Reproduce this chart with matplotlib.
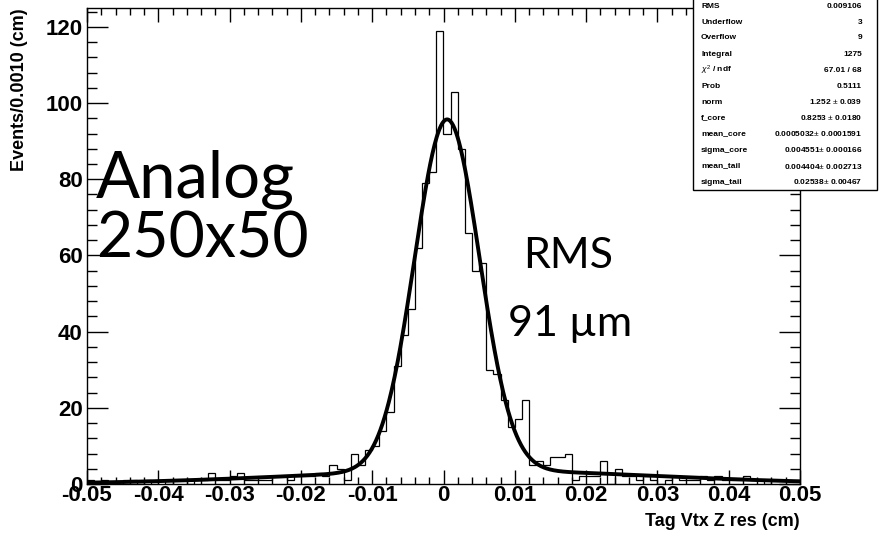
import numpy as np
import matplotlib.pyplot as plt
from matplotlib.patches import Rectangle
from matplotlib.ticker import MultipleLocator

W, H = 881, 542

# 100 bins of 0.0010 cm, -0.05 .. 0.05
counts = [1, 0, 1, 0, 0, 1, 1, 0, 1, 0,
          1, 0, 1, 1, 0, 1, 1, 3, 1, 1,
          2, 3, 1, 1, 1, 1, 2, 2, 1, 2,
          2, 2, 3, 2, 5, 4, 1, 8, 5, 9,
          10, 14, 19, 31, 39, 46, 62, 79, 82, 119,
          92, 103, 88, 66, 56, 58, 30, 29, 22, 15,
          17, 22, 5, 6, 5, 7, 7, 8, 1, 2,
          2, 2, 6, 0, 4, 2, 2, 1, 2, 1,
          0, 1, 2, 1, 1, 1, 2, 1, 2, 1,
          1, 1, 2, 1, 1, 0, 1, 1, 1, 1]
edges = np.linspace(-0.05, 0.05, 101)
binw = 0.001

# double gaussian fit (values from the stats box)
integral = 1275
f_core = 0.8253
mean_core = 0.0005032
sigma_core = 0.004551
mean_tail = 0.004404
sigma_tail = 0.02538

stat_names = ["RMS", "Underflow", "Overflow", "Integral", r"$\chi^2$ / ndf", "Prob",
              "norm", "f_core", "mean_core", "sigma_core", "mean_tail", "sigma_tail"]
stat_vals = ["0.009106", "3", "9", "1275", "67.01 / 68", "0.5111",
             "1.252 $\\pm$ 0.039", "0.8253 $\\pm$ 0.0180", "0.0005032$\\pm$ 0.0001591",
             "0.004551$\\pm$ 0.000166", "0.004404$\\pm$ 0.002713", "0.02538$\\pm$ 0.00467"]

def gaus(x, m, s):
    return np.exp(-0.5*((x-m)/s)**2)/(np.sqrt(2*np.pi)*s)

plt.rcParams['font.family'] = ['Liberation Sans', 'DejaVu Sans']
plt.rcParams['mathtext.fontset'] = 'custom'
plt.rcParams['mathtext.rm'] = 'Liberation Sans'
plt.rcParams['mathtext.it'] = 'Liberation Sans:italic'

fig = plt.figure(figsize=(W/100, H/100), dpi=100)
ax = fig.add_axes([87/W, 1-484/H, (800-87)/W, (484-8)/H])

ax.stairs(counts, edges, color='black', lw=0.9)
xx = np.linspace(-0.05, 0.05, 1000)
fit = integral*binw*(f_core*gaus(xx, mean_core, sigma_core) + (1-f_core)*gaus(xx, mean_tail, sigma_tail))
ax.plot(xx, fit, color='black', lw=2.8)

ax.set_xlim(-0.05, 0.05)
ax.set_ylim(0, 1.05*max(counts))
ax.xaxis.set_minor_locator(MultipleLocator(0.002))
ax.yaxis.set_major_locator(MultipleLocator(20))
ax.yaxis.set_minor_locator(MultipleLocator(4))
ax.set_xticks(np.arange(-0.05, 0.051, 0.01))
ax.set_xticklabels(["-0.05", "-0.04", "-0.03", "-0.02", "-0.01", "0", "0.01", "0.02", "0.03", "0.04", "0.05"])
ax.tick_params(which='both', direction='in', top=True, right=True, width=1)
ax.tick_params(axis='x', which='major', length=10, labelsize=16, pad=1)
ax.tick_params(axis='x', which='minor', length=5)
ax.tick_params(axis='y', which='major', length=15, labelsize=16, pad=3)
ax.tick_params(axis='y', which='minor', length=7.5)
for lab in ax.get_xticklabels() + ax.get_yticklabels():
    lab.set_fontweight('bold')
for sp in ax.spines.values():
    sp.set_linewidth(1)

fig.text(800/W, 1-521/H, "Tag Vtx Z res (cm)", ha='right', va='center', fontsize=13, fontweight='bold')
fig.text(20/W, 1-8/H, "Events/0.0010 (cm)", ha='center', va='top', rotation=90, fontsize=13, fontweight='bold')

fig.text(96/W, 1-198/H, "Analog", fontsize=47, family='Lato', ha='left', va='baseline')
fig.text(96/W, 1-258/H, "250x50", fontsize=45, family='Lato', ha='left', va='baseline')
fig.text(568/W, 1-268/H, "RMS", fontsize=31, family='Lato', ha='center', va='baseline')
fig.text(570/W, 1-336/H, "91 \u00b5m", fontsize=31, family='Lato', ha='center', va='baseline')

# stats box
bx0, bx1, by1 = 693, 877, 190
fig.add_artist(Rectangle((bx0/W, 1-by1/H), (bx1-bx0)/W, by1/H + 0.01,
                         transform=fig.transFigure, facecolor='white', edgecolor='black', lw=1))
for i, (n, v) in enumerate(zip(stat_names, stat_vals)):
    y = 1 - (6 + 16*i)/H
    fig.text(701/W, y, n, fontsize=6, fontweight='bold', ha='left', va='center')
    fig.text(862/W, y, v, fontsize=6, fontweight='bold', ha='right', va='center')

fig.savefig("out.png", dpi=100)
